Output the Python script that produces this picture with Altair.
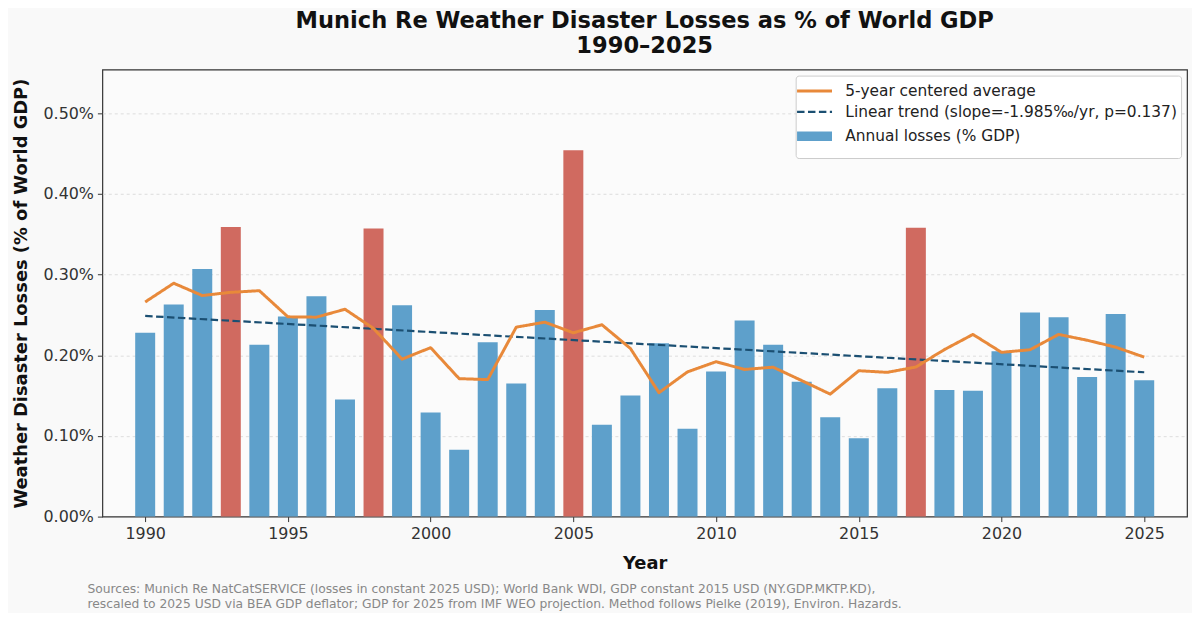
import altair as alt
import pandas as pd

# ---------------- data ----------------
years = list(range(1990, 2026))
losses = [0.228, 0.263, 0.307, 0.359, 0.213, 0.248, 0.273, 0.145, 0.357, 0.262,
          0.129, 0.083, 0.216, 0.165, 0.256, 0.454, 0.114, 0.150, 0.215, 0.109,
          0.180, 0.243, 0.213, 0.167, 0.123, 0.097, 0.159, 0.358, 0.157, 0.156,
          0.205, 0.253, 0.247, 0.173, 0.251, 0.169]
highlight_years = [1993, 1998, 2005, 2017]
x_ticks = [1990, 1995, 2000, 2005, 2010, 2015, 2020, 2025]
y_ticks = [0.0, 0.1, 0.2, 0.3, 0.4, 0.5]
series_labels = ["5-year centered average",
                 "Linear trend (slope=-1.985‰/yr, p=0.137)",
                 "Annual losses (% GDP)"]
title_lines = ["Munich Re Weather Disaster Losses as % of World GDP", "1990–2025"]
x_title = "Year"
y_title = "Weather Disaster Losses (% of World GDP)"
footer_lines = [
    "Sources: Munich Re NatCatSERVICE (losses in constant 2025 USD); World Bank WDI, GDP constant 2015 USD (NY.GDP.MKTP.KD),",
    "rescaled to 2025 USD via BEA GDP deflator; GDP for 2025 from IMF WEO projection. Method follows Pielke (2019), Environ. Hazards.",
]

# ---------------- style ----------------
FONT = "DejaVu Sans"
BLUE = "#5ea0cb"
RED = "#d06a60"
ORANGE = "#e8893a"
NAVY = "#1b4f72"
W, H = 1092, 450

df = pd.DataFrame({"year": years, "loss": losses})

legend = alt.Legend(
    title=None, orient="top-right", offset=6, symbolType="M-1.6,0H1.6", symbolSize=484,
    labelFont=FONT, labelFontSize=15.5, labelColor="#222", labelOffset=15, labelLimit=500,
    padding=3, rowPadding=-7, strokeColor="#cccccc", fillColor="#ffffff", cornerRadius=3,
)
color_scale = alt.Scale(domain=series_labels, range=[ORANGE, NAVY, BLUE])
dash_scale = alt.Scale(type="ordinal", domain=series_labels, range=[[1, 0], [7.5, 3.5], [1, 0]])
width_scale = alt.Scale(type="ordinal", domain=series_labels, range=[3, 2.2, 9.5])

x_scale = alt.Scale(domain=[1988.5, 2026.5], nice=False, zero=False)
y_scale = alt.Scale(domain=[0, 0.554], nice=False)

x_axis = alt.Axis(values=x_ticks, format="d", title=x_title, grid=False,
                  titlePadding=13)
y_axis = alt.Axis(values=y_ticks, labelExpr="format(datum.value, '.2f') + '%'",
                  title=y_title, grid=True, gridDash=[3, 3], gridColor="#dddddd",
                  gridOpacity=alt.condition("datum.value === 0", alt.value(0), alt.value(1)),
                  titlePadding=13)

enc_legend = dict(
    color=alt.Color("series:N", scale=color_scale, legend=legend),
    strokeDash=alt.StrokeDash("series:N", scale=dash_scale, legend=legend),
    strokeWidth=alt.StrokeWidth("series:N", scale=width_scale, legend=legend),
)

base = alt.Chart(df)

bars_x = base.transform_calculate(
    x0="datum.year - 0.35", x1="datum.year + 0.35"
)

blue_bars = bars_x.transform_filter(
    ~alt.FieldOneOfPredicate(field="year", oneOf=highlight_years)
).transform_calculate(
    series=f"'{series_labels[2]}'"
).mark_bar(strokeOpacity=0).encode(
    x=alt.X("x0:Q", scale=x_scale, axis=x_axis),
    x2="x1:Q",
    y=alt.Y("loss:Q", scale=y_scale, axis=y_axis),
    y2=alt.datum(0),
    **enc_legend,
)

red_bars = bars_x.transform_filter(
    alt.FieldOneOfPredicate(field="year", oneOf=highlight_years)
).mark_bar(color=RED).encode(
    x=alt.X("x0:Q", scale=x_scale, axis=x_axis),
    x2="x1:Q",
    y=alt.Y("loss:Q", scale=y_scale, axis=y_axis),
    y2=alt.datum(0),
)

trend = base.transform_regression(
    "year", "loss", method="linear", extent=[1990, 2025]
).transform_calculate(
    series=f"'{series_labels[1]}'"
).mark_line().encode(
    x=alt.X("year:Q", scale=x_scale, axis=x_axis),
    y=alt.Y("loss:Q", scale=y_scale, axis=y_axis),
    **enc_legend,
)

avg = base.transform_window(
    avg="mean(loss)", frame=[-2, 2], sort=[alt.SortField("year")]
).transform_calculate(
    series=f"'{series_labels[0]}'"
).mark_line(strokeJoin="round").encode(
    x=alt.X("year:Q", scale=x_scale, axis=x_axis),
    y=alt.Y("avg:Q", scale=y_scale, axis=y_axis),
    **enc_legend,
)

footer = alt.Chart(pd.DataFrame({"note": ["\n".join(footer_lines)]})).mark_text(
    align="left", baseline="top", font=FONT, fontSize=12.4, color="#888888",
    lineBreak="\n", lineHeight=15,
).encode(
    x=alt.value(-15), y=alt.value(H + 67), text="note:N",
)

chart = alt.layer(blue_bars, red_bars, trend, avg, footer).properties(
    width=W, height=H,
    title=alt.TitleParams(text=title_lines, font=FONT, fontSize=22.7, fontWeight="bold",
                          color="#111111", anchor="middle", offset=12, lineHeight=25),
    autosize=alt.AutoSizeParams(type="none"),
    padding={"left": 95, "top": 60, "right": 5, "bottom": 95},
    background="#f9f9f9",
).configure_view(
    stroke="#333333", strokeWidth=1.2, fill="#fbfbfb",
).configure_axis(
    domain=False, tickColor="#333333", tickSize=5, labelColor="#333333",
    labelFont=FONT, labelFontSize=16, labelPadding=4,
    titleFont=FONT, titleFontSize=18, titleFontWeight="bold", titleColor="#111111",
)

chart.save("out.html", embed_options={"renderer": "svg", "actions": False})
